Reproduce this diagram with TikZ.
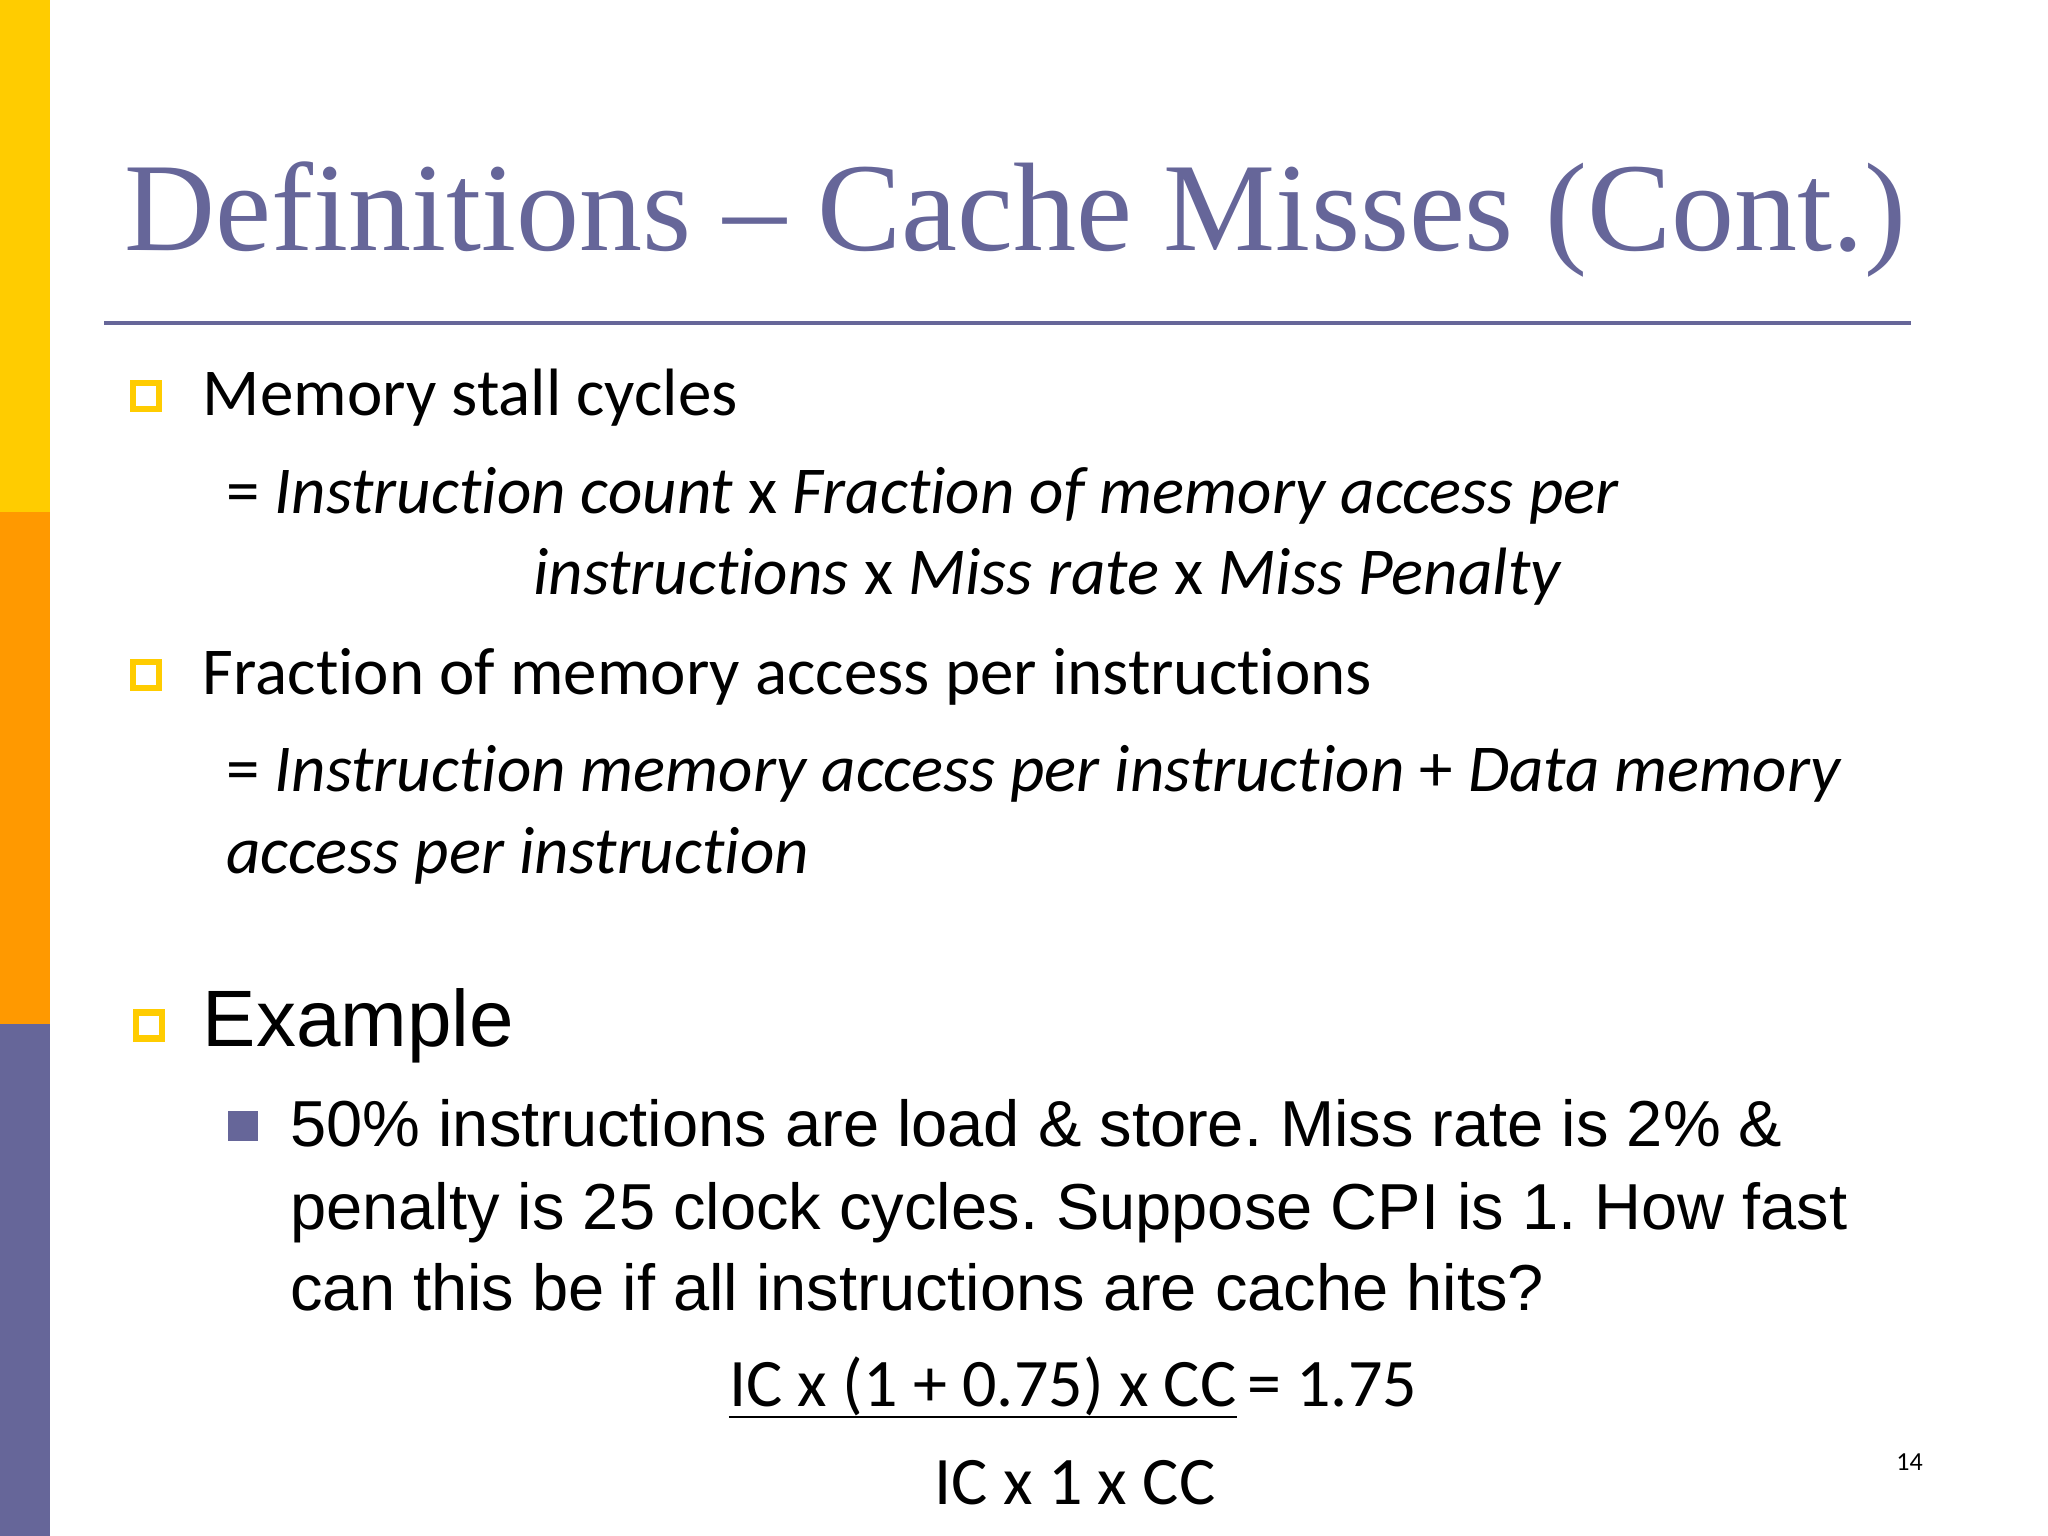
\documentclass[tikz,border=0pt]{standalone}
\usepackage{fontspec}
\setmainfont[Ligatures=CommonOff]{Carlito}
\newfontfamily\ttlfont{Liberation Serif}
\newfontfamily\arialf{Liberation Sans}
\definecolor{ttl}{HTML}{666699}
\definecolor{yel}{HTML}{FFCC00}
\definecolor{org}{HTML}{FF9900}
\frenchspacing
\begin{document}
\begin{tikzpicture}[x=0.653pt,y=-0.653pt,
  txt/.style={anchor=base west,inner sep=0pt},
  hbul/.style={draw=yel,line width=3.2pt,minimum size=13pt,inner sep=0pt},
  sbul/.style={fill=ttl,minimum size=15pt,inner sep=0pt}]
\useasboundingbox (0,0) rectangle (1568,1176);
\fill[yel] (0,0) rectangle (38,392);
\fill[org] (0,392) rectangle (38,784);
\fill[ttl] (0,784) rectangle (38,1176);
\node[txt,text=ttl,font=\ttlfont\fontsize{63}{70}\selectfont] (title) at (95,192) {Definitions – Cache Misses (Cont.)};
\draw[ttl,line width=2pt] (80,247) -- (1463,247);
\node[hbul] (b1) at (112,303) {};
\node[txt,font=\fontsize{33.5}{38}\selectfont] (t1) at (155,318) {Memory stall cycles};
\node[txt,font=\fontsize{33.5}{38}\selectfont] (t2) at (173,393) {= \textit{Instruction count} x \textit{Fraction of memory access per}};
\node[txt,font=\fontsize{33.5}{38}\selectfont] (t3) at (408,455) {\textit{instructions} x \textit{Miss rate} x \textit{Miss Penalty}};
\node[hbul] (b2) at (112,517) {};
\node[txt,font=\fontsize{33.5}{38}\selectfont] (t4) at (155,532) {Fraction of memory access per instructions};
\node[txt,font=\fontsize{33.5}{38}\selectfont] (t5) at (173,606) {= \textit{Instruction memory access per instruction} + \textit{Data memory}};
\node[txt,font=\fontsize{33.5}{38}\selectfont] (t6) at (173,669) {\textit{access per instruction}};
\node[hbul] (b3) at (114,785) {};
\node[txt,font=\arialf\fontsize{40}{46}\selectfont] (t7) at (155,801) {Example};
\node[sbul] (b4) at (186,862) {};
\node[txt,font=\arialf\fontsize{32.5}{38}\selectfont] (t8) at (222,878) {50\% instructions are load \& store. Miss rate is 2\% \&};
\node[txt,font=\arialf\fontsize{32.5}{38}\selectfont] (t9) at (222,941) {penalty is 25 clock cycles. Suppose CPI is 1. How fast};
\node[txt,font=\arialf\fontsize{32.5}{38}\selectfont] (t10) at (222,1003) {can this be if all instructions are cache hits?};
\node[txt,font=\fontsize{34}{38}\selectfont] (f1) at (558,1077) {IC x (1 + 0.75) x CC};
\draw[line width=1.3pt] (558,1085) -- (f1.base east |- 0,1085);
\node[txt,font=\fontsize{34}{38}\selectfont] (f2) at ([xshift=5pt]f1.base east) {= 1.75};
\node[anchor=base,inner sep=0pt,font=\fontsize{34}{38}\selectfont] (f3) at (823,1152) {IC x 1 x CC};
\node[anchor=base,inner sep=0pt,font=\fontsize{13}{15}\selectfont] (pg) at (1462,1126) {14};
\end{tikzpicture}
\end{document}
